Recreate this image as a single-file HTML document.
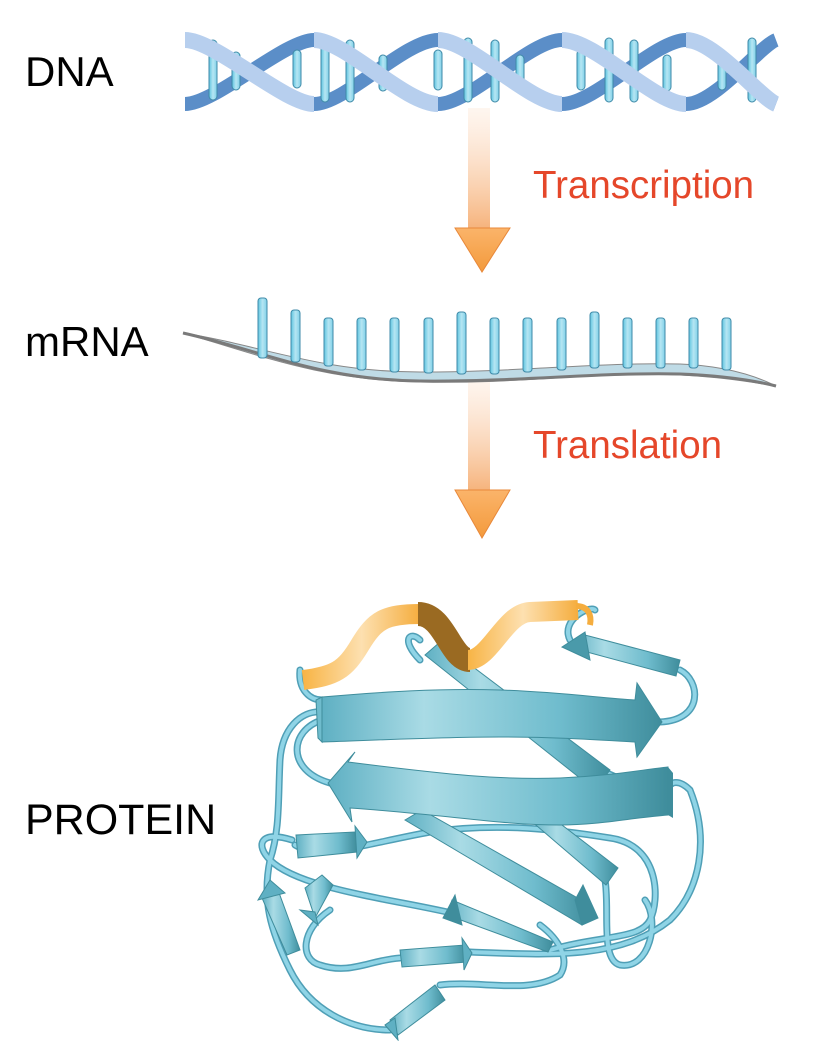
<!DOCTYPE html>
<html><head><meta charset="utf-8"><style>
html,body{margin:0;padding:0;background:#fff;}
svg{display:block}
text{font-family:"Liberation Sans",Arial,sans-serif}
</style></head><body>
<svg width="815" height="1041" viewBox="0 0 815 1041" xmlns="http://www.w3.org/2000/svg">
<defs>
<linearGradient id="sh1" x1="0" y1="0" x2="0" y2="1"><stop offset="0" stop-color="#fde8d8" stop-opacity="0.4"/><stop offset="1" stop-color="#f6b27a"/></linearGradient>
<linearGradient id="hd" x1="0" y1="0" x2="0" y2="1"><stop offset="0" stop-color="#fbb46a"/><stop offset="1" stop-color="#f39a3c"/></linearGradient>
<linearGradient id="rod" x1="0" y1="0" x2="1" y2="0"><stop offset="0" stop-color="#5ec4e0"/><stop offset="0.5" stop-color="#b6e6f3"/><stop offset="1" stop-color="#7fd0e8"/></linearGradient>
<linearGradient id="bb" x1="0" y1="0" x2="1" y2="0"><stop offset="0" stop-color="#5fb0c3"/><stop offset="0.3" stop-color="#a9dbe5"/><stop offset="0.7" stop-color="#6fbccd"/><stop offset="1" stop-color="#3f8d9c"/></linearGradient>
<linearGradient id="og" x1="0" y1="0" x2="1" y2="0"><stop offset="0" stop-color="#f8b445"/><stop offset="0.5" stop-color="#fde0b0"/><stop offset="1" stop-color="#f5ad3e"/></linearGradient>
</defs>

<text x="25" y="86" font-size="42" fill="#000">DNA</text>
<text x="25" y="356" font-size="42" fill="#000">mRNA</text>
<text x="25" y="834" font-size="43" fill="#000">PROTEIN</text>
<text x="533" y="198" font-size="38.5" fill="#e5472a">Transcription</text>
<text x="533" y="458" font-size="38.5" fill="#e5472a">Translation</text>

<!-- arrows -->
<rect x="468" y="108" width="22" height="122" fill="url(#sh1)"/>
<polygon points="455,228 510,228 482,272" fill="url(#hd)" stroke="#e8883a" stroke-width="1"/>
<rect x="468" y="378" width="22" height="114" fill="url(#sh1)"/>
<polygon points="455,490 510,490 482,538" fill="url(#hd)" stroke="#e8883a" stroke-width="1"/>

<!-- DNA back strands -->
<g fill="none" stroke="#5b8ec8" stroke-width="14">
<path d="M185,104 C215,104 285,40 314,40 C345,40 405,104 438,104 C470,104 530,40 562,40 C595,40 655,104 686,104 C715,104 760,46 776,40"/>
<path d="M185,40 C215,40 285,104 314,104 C345,104 405,40 438,40 C470,40 530,104 562,104 C595,104 655,40 686,40 C715,40 760,98 776,104"/>
</g>
<g fill="url(#rod)" stroke="#3f8aa8" stroke-width="1">
<rect x="209" y="40" width="8" height="60" rx="4"/>
<rect x="232" y="52" width="8" height="38" rx="4"/>
<rect x="293" y="50" width="8" height="38" rx="4"/>
<rect x="321" y="40" width="8" height="62" rx="4"/>
<rect x="346" y="40" width="8" height="62" rx="4"/>
<rect x="379" y="55" width="8" height="36" rx="4"/>
<rect x="434" y="50" width="8" height="40" rx="4"/>
<rect x="464" y="38" width="8" height="64" rx="4"/>
<rect x="491" y="40" width="8" height="62" rx="4"/>
<rect x="516" y="55" width="8" height="36" rx="4"/>
<rect x="577" y="50" width="8" height="40" rx="4"/>
<rect x="605" y="38" width="8" height="64" rx="4"/>
<rect x="630" y="40" width="8" height="62" rx="4"/>
<rect x="663" y="55" width="8" height="36" rx="4"/>
<rect x="718" y="50" width="8" height="40" rx="4"/>
<rect x="748" y="38" width="8" height="64" rx="4"/>
</g>
<!-- DNA front strands (descending) -->
<g fill="none" stroke="#b7cfee" stroke-width="16">
<path d="M185,40 C215,40 285,104 314,104"/>
<path d="M314,40 C345,40 405,104 438,104"/>
<path d="M438,40 C470,40 530,104 562,104"/>
<path d="M562,40 C595,40 655,104 686,104"/>
<path d="M686,40 C715,40 760,98 776,104"/>
</g>

<!-- mRNA -->
<path d="M183,333 C260,345 320,372 420,372 C520,372 600,362 680,364 C730,366 760,378 776,386 C740,380 700,374 640,374 C560,376 500,384 420,382 C320,380 260,355 183,333 Z" fill="#bfdbe6" stroke="#888" stroke-width="1"/>
<path d="M183,333 C260,350 320,380 420,381 C520,382 600,372 680,374 C730,376 760,382 776,386" fill="none" stroke="#7a7a7a" stroke-width="3"/>
<g fill="url(#rod)" stroke="#3f8aa8" stroke-width="1">
<rect x="258" y="298" width="9" height="60" rx="3"/>
<rect x="291" y="310" width="9" height="52" rx="3"/>
<rect x="324" y="318" width="9" height="48" rx="3"/>
<rect x="357" y="318" width="9" height="52" rx="3"/>
<rect x="390" y="318" width="9" height="54" rx="3"/>
<rect x="424" y="318" width="9" height="55" rx="3"/>
<rect x="457" y="312" width="9" height="62" rx="3"/>
<rect x="490" y="318" width="9" height="56" rx="3"/>
<rect x="523" y="318" width="9" height="54" rx="3"/>
<rect x="557" y="318" width="9" height="52" rx="3"/>
<rect x="590" y="312" width="9" height="56" rx="3"/>
<rect x="623" y="318" width="9" height="50" rx="3"/>
<rect x="656" y="318" width="9" height="50" rx="3"/>
<rect x="689" y="318" width="9" height="50" rx="3"/>
<rect x="722" y="318" width="9" height="52" rx="3"/>
</g>

<!-- protein loops -->
<g fill="none" stroke-linecap="round">
<g stroke="#4f9fb6" stroke-width="7">
<path d="M322,712 C300,710 282,730 280,760 C278,800 280,830 270,860 C262,900 270,930 290,970 C310,1010 350,1030 390,1030"/>
<path d="M322,720 C290,730 285,770 330,783"/>
<path d="M292,840 C260,830 255,845 270,860 C300,890 400,900 460,915"/>
<path d="M295,845 C320,860 360,845 430,832 C500,822 560,830 610,838 C660,845 660,900 650,920 C640,940 600,935 550,950"/>
<path d="M330,910 C300,930 300,960 320,965 C350,975 370,960 400,958"/>
<path d="M470,952 C550,955 620,960 670,920 C700,890 710,840 690,790 C680,780 670,780 668,790"/>
<path d="M440,985 C480,980 530,995 560,975 C570,960 560,940 540,925"/>
<path d="M605,880 C610,910 600,960 620,965 C650,970 660,920 645,900"/>
<path d="M680,670 C700,680 705,720 660,722"/>
<path d="M570,640 C560,620 590,605 595,610"/>
<path d="M420,660 C400,640 410,630 420,640"/>
<path d="M575,760 C600,770 625,780 640,790"/>
<path d="M300,670 C298,690 310,700 322,700"/>
</g>
<g stroke="#8fd4e6" stroke-width="4">
<path d="M322,712 C300,710 282,730 280,760 C278,800 280,830 270,860 C262,900 270,930 290,970 C310,1010 350,1030 390,1030"/>
<path d="M322,720 C290,730 285,770 330,783"/>
<path d="M292,840 C260,830 255,845 270,860 C300,890 400,900 460,915"/>
<path d="M295,845 C320,860 360,845 430,832 C500,822 560,830 610,838 C660,845 660,900 650,920 C640,940 600,935 550,950"/>
<path d="M330,910 C300,930 300,960 320,965 C350,975 370,960 400,958"/>
<path d="M470,952 C550,955 620,960 670,920 C700,890 710,840 690,790 C680,780 670,780 668,790"/>
<path d="M440,985 C480,980 530,995 560,975 C570,960 560,940 540,925"/>
<path d="M605,880 C610,910 600,960 620,965 C650,970 660,920 645,900"/>
<path d="M680,670 C700,680 705,720 660,722"/>
<path d="M570,640 C560,620 590,605 595,610"/>
<path d="M420,660 C400,640 410,630 420,640"/>
<path d="M575,760 C600,770 625,780 640,790"/>
<path d="M300,670 C298,690 310,700 322,700"/>
</g>
</g>

<!-- diagonal strands -->
<g stroke="#3f8d9c" stroke-width="1">
<polygon points="405,820 422,810 590,905 582,925" fill="url(#bb)"/>
<polygon points="575,900 582,925 598,918 583,885" fill="#3f8d9c"/>
<polygon points="530,820 545,812 618,868 606,885" fill="url(#bb)"/>
<polygon points="425,655 440,642 610,770 595,790" fill="url(#bb)"/>
<polygon points="572,648 585,635 680,660 676,676" fill="url(#bb)"/>
<polygon points="585,632 562,647 590,660" fill="#4a9aaa"/>
<polygon points="447,915 452,900 553,942 548,952" fill="url(#bb)"/>
<polygon points="455,895 443,918 462,925" fill="#3f8d9c"/>
<polygon points="296,835 355,832 357,852 298,858" fill="url(#bb)"/>
<polygon points="355,826 367,842 357,858" fill="#5fb0c3"/>
<polygon points="400,950 465,945 467,962 402,967" fill="url(#bb)"/>
<polygon points="462,938 472,953 464,970" fill="#5fb0c3"/>
<polygon points="262,898 278,890 300,950 287,955" fill="url(#bb)"/>
<polygon points="258,900 270,880 285,893" fill="#5fb0c3"/>
<polygon points="305,888 322,875 333,885 315,918" fill="url(#bb)"/>
<polygon points="300,910 318,925 315,912" fill="#5fb0c3"/>
<polygon points="390,1020 435,985 445,1000 398,1035" fill="url(#bb)"/>
<polygon points="385,1025 398,1040 395,1018" fill="#5fb0c3"/>
</g>
<path d="M348,762 C450,775 500,780 560,778 C610,776 640,770 668,767 L668,815 C630,818 600,825 560,825 C500,825 450,815 350,808 L352,822 L328,783 L355,752 Z" fill="url(#bb)" stroke="#3f8d9c" stroke-width="1"/>
<polygon points="668,767 673,773 673,818 668,815" fill="#3f8d9c"/>
<path d="M322,697 C380,692 440,688 500,690 C560,692 600,698 635,700 L637,683 L662,722 L637,757 L635,742 C600,740 560,737 500,737 C440,737 380,740 322,742 Z" fill="url(#bb)" stroke="#3f8d9c" stroke-width="1"/>
<polygon points="322,697 316,700 318,738 322,742" fill="#6fbccd" stroke="#3f8d9c" stroke-width="1"/>

<!-- helix -->
<g fill="none" stroke-linecap="butt">
<path d="M303,680 C335,676 345,670 360,645 C375,620 385,614 420,614" stroke="url(#og)" stroke-width="20"/>
<path d="M418,614 C445,614 450,660 470,660" stroke="#9a6a22" stroke-width="24"/>
<path d="M468,660 C490,660 505,613 530,612 L578,610" stroke="url(#og)" stroke-width="20"/>
<path d="M576,606 C588,606 592,615 590,625" stroke="#f5ad3e" stroke-width="6"/>
</g>
</svg>
</body></html>
